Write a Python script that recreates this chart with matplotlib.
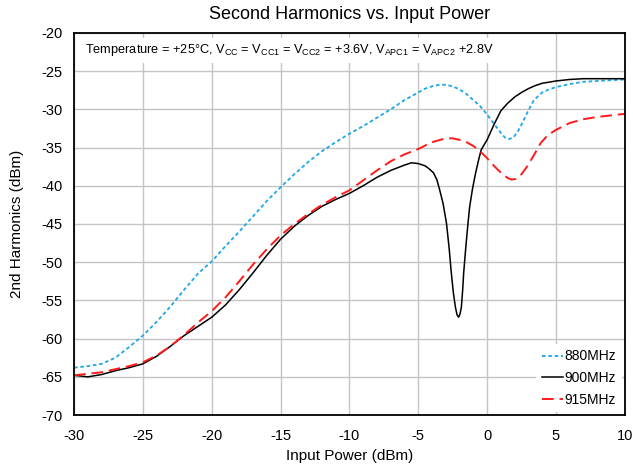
import matplotlib
matplotlib.use("Agg")
import matplotlib.pyplot as plt

plt.rcParams["font.family"] = ["Liberation Sans", "DejaVu Sans"]
plt.rcParams["mathtext.fontset"] = "custom"
plt.rcParams["mathtext.rm"] = "Liberation Sans"
plt.rcParams["mathtext.it"] = "Liberation Sans"
plt.rcParams["axes.unicode_minus"] = False

# 880MHz
x_880 = [-30, -29, -28, -27, -26, -25, -24, -23, -22, -21, -20, -19, -18, -17, -16, -15, -14, -13,
         -12, -11, -10, -9, -8, -7, -6, -5, -4.5, -4, -3.5, -3, -2.5, -2, -1.5, -1, -0.5, 0, 0.5,
         1.0, 1.3, 1.6, 1.9, 2.2, 2.5, 2.9, 3.4, 4.0, 4.5, 5, 6, 7, 8, 9, 10]
y_880 = [-63.8, -63.6, -63.3, -62.5, -61.1, -59.6, -57.8, -55.8, -53.6, -51.5, -49.9, -47.9, -46.0,
         -44.0, -42.0, -40.2, -38.5, -36.9, -35.5, -34.3, -33.2, -32.2, -31.1, -30.0, -28.8, -27.8,
         -27.3, -27.0, -26.8, -26.8, -27.0, -27.4, -28.0, -28.8, -29.6, -30.7, -31.9, -33.1, -33.7,
         -33.9, -33.7, -33.0, -32.0, -30.5, -28.8, -27.8, -27.4, -27.1, -26.7, -26.4, -26.3, -26.2, -26.1]

# 900MHz
x_900 = [-30, -29, -28, -27, -26, -25, -24, -23, -22, -21, -20, -19, -18, -17, -16, -15, -14, -13,
         -12, -11, -10, -9, -8, -7, -6, -5.5, -5, -4.5, -4.2, -3.9, -3.65, -3.45, -3.2, -2.95, -2.75,
         -2.6, -2.45, -2.3, -2.18, -2.07, -1.97, -1.87, -1.78, -1.7, -1.6, -1.5, -1.38, -1.27, -1.05,
         -0.83, -0.6, -0.43, -0.2, 0, 0.5, 1.0, 1.5, 2.0, 2.5, 3.0, 3.5, 4.0, 5, 6, 7, 8, 9, 10]
y_900 = [-64.8, -65.0, -64.7, -64.2, -63.8, -63.3, -62.3, -61.0, -59.6, -58.4, -57.2, -55.6, -53.6,
         -51.4, -49.1, -47.0, -45.3, -43.9, -42.7, -41.8, -41.0, -40.0, -38.9, -38.0, -37.3, -37.0,
         -37.1, -37.4, -37.8, -38.3, -39.2, -40.5, -42.3, -44.9, -48.3, -51.4, -54.0, -55.9, -56.9,
         -57.2, -56.8, -55.9, -53.8, -51.4, -49.2, -47.1, -44.8, -42.8, -40.3, -38.3, -36.5, -35.3,
         -34.6, -34.0, -32.0, -30.2, -29.2, -28.4, -27.8, -27.3, -26.9, -26.6, -26.3, -26.1, -26.0,
         -26.0, -26.0, -26.0]

# 915MHz
x_915 = [-30, -29, -28, -27, -26, -25, -24, -23, -22, -21, -20, -19, -18, -17, -16, -15, -14, -13,
         -12, -11, -10, -9, -8, -7, -6, -5, -4, -3, -2.5, -2, -1.5, -1, -0.5, 0, 0.5, 1.0, 1.5,
         1.8, 2.1, 2.5, 2.9, 3.4, 3.9, 4.4, 5, 6, 7, 8, 9, 10]
y_915 = [-64.8, -64.6, -64.4, -64.0, -63.6, -63.1, -62.2, -61.0, -59.5, -57.9, -56.4, -54.6, -52.5,
         -50.3, -48.3, -46.5, -45.0, -43.7, -42.5, -41.5, -40.6, -39.3, -38.0, -36.8, -35.9, -35.2,
         -34.3, -33.8, -33.8, -34.0, -34.3, -34.8, -35.5, -36.4, -37.4, -38.3, -39.0, -39.2, -39.1,
         -38.5, -37.5, -36.0, -34.4, -33.4, -32.7, -31.8, -31.3, -31.0, -30.8, -30.6]

fig = plt.figure(figsize=(6.33, 4.69), dpi=100)
ax = fig.add_axes([0.117, 0.115, 0.870, 0.815])

ax.plot(x_880, y_880, linestyle=(0, (2, 1.5)), color="#1ea7e6", lw=1.3, label="880MHz")
ax.plot(x_900, y_900, "-", color="black", lw=1.1, label="900MHz")
ax.plot(x_915, y_915, linestyle=(0, (6, 3)), color="#ff1a1a", lw=1.4, label="915MHz")

ax.set_xlim(-30, 10)
ax.set_ylim(-70, -20)
ax.set_xticks(range(-30, 11, 5))
ax.set_yticks(range(-70, -19, 5))
ax.grid(True, color="#c4c4c4", lw=1.0)
ax.set_axisbelow(True)
ax.tick_params(length=0, labelsize=10.5)
ax.tick_params(axis="x", pad=10)
ax.tick_params(axis="y", pad=8)
for s in ax.spines.values():
    s.set_linewidth(1.3)

ax.set_title("Second Harmonics vs. Input Power", fontsize=13, pad=10)
ax.set_xlabel("Input Power (dBm)", fontsize=11, labelpad=4)
ax.set_ylabel("2nd Harmonics (dBm)", fontsize=11, labelpad=13)

ax.text(-29.2, -22.3,
        r"Temperature = +25°C, V$_{\mathrm{CC}}$ = V$_{\mathrm{CC1}}$ = V$_{\mathrm{CC2}}$ = +3.6V, "
        r"V$_{\mathrm{APC1}}$ = V$_{\mathrm{APC2}}$ +2.8V",
        fontsize=9.2, va="center", ha="left",
        bbox=dict(facecolor="white", edgecolor="none", pad=3))

leg = ax.legend(loc="lower right", fontsize=10, frameon=True, fancybox=False,
                edgecolor="none", framealpha=1, handlelength=1.5, handletextpad=0.15,
                labelspacing=0.55, borderaxespad=0.2)

fig.savefig("out.png", dpi=100)
